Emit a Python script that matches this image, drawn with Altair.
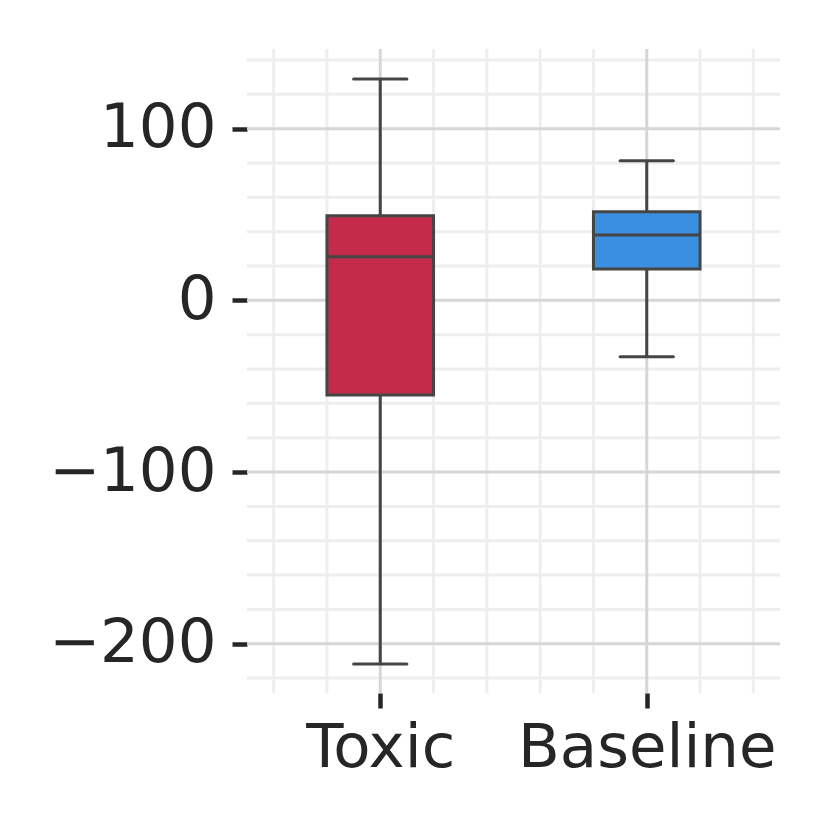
import json
import altair as alt
import pandas as pd

# ---- data ----
categories = ["Toxic", "Baseline"]
whisker_low = [-211.8, -32.8]
q1 = [-55.2, 18.2]
median = [25.4, 38.0]
q3 = [49.3, 51.6]
whisker_high = [128.9, 81.3]
box_colors = ["#c42b4b", "#3b8fe0"]

y_major = [-200, -100, 0, 100]
y_minor = [-220, -180, -160, -140, -120, -80, -60, -40, -20, 20, 40, 60, 80, 120, 140]
x_major = [0, 1]
x_minor = [-0.4, -0.2, 0.2, 0.4, 0.6, 0.8, 1.2, 1.4]

df = pd.DataFrame({
    "cat": categories,
    "pos": list(range(len(categories))),
    "lo": whisker_low,
    "q1": q1,
    "med": median,
    "q3": q3,
    "hi": whisker_high,
})

FONT = "DejaVu Sans"
TXT = "#262626"
EDGE = "#454545"
LW = 3

xs = alt.Scale(domain=[-0.5, 1.5], nice=False, zero=False)
ys = alt.Scale(domain=[-228.7, 146.4], nice=False, zero=False)

x_axis = alt.Axis(
    values=x_major,
    labelExpr=f"{json.dumps(categories)}[datum.value]",
    tickSize=15, tickWidth=4.5, tickColor=TXT,
    domain=False, grid=False,
    labelFont=FONT, labelFontSize=61, labelColor=TXT, labelPadding=10,
    labelLimit=0, labelOverlap=False,
    title=None,
)
y_axis = alt.Axis(
    values=y_major,
    labelExpr="replace(format(datum.value, 'd'), '-', '\u2212')",
    tickSize=15, tickWidth=4.5, tickColor=TXT,
    domain=False, grid=False,
    labelFont=FONT, labelFontSize=61, labelColor=TXT, labelPadding=16,
    labelLimit=0, labelOverlap=False,
    title=None,
)


def X(field):
    return alt.X(field, scale=xs, axis=x_axis)


def Y(field):
    return alt.Y(field, scale=ys, axis=y_axis)


# ---- gridlines ----
gy_minor = alt.Chart(pd.DataFrame({"v": y_minor})).mark_rule(
    color="#eeeeee", strokeWidth=3
).encode(y=Y("v:Q"))
gx_minor = alt.Chart(pd.DataFrame({"v": x_minor})).mark_rule(
    color="#eeeeee", strokeWidth=3
).encode(x=X("v:Q"))
gy_major = alt.Chart(pd.DataFrame({"v": y_major})).mark_rule(
    color="#d6d6d6", strokeWidth=3
).encode(y=Y("v:Q"))
gx_major = alt.Chart(pd.DataFrame({"v": x_major})).mark_rule(
    color="#d6d6d6", strokeWidth=3
).encode(x=X("v:Q"))

# ---- boxes ----
base = alt.Chart(df).transform_calculate(
    x0="datum.pos - 0.2",
    x1="datum.pos + 0.2",
    c0="datum.pos - 0.1",
    c1="datum.pos + 0.1",
)

whisk_lo = base.mark_rule(color=EDGE, strokeWidth=LW).encode(
    x=X("pos:Q"), y=Y("lo:Q"), y2="q1:Q"
)
whisk_hi = base.mark_rule(color=EDGE, strokeWidth=LW).encode(
    x=X("pos:Q"), y=Y("q3:Q"), y2="hi:Q"
)
boxes = base.mark_bar(stroke=EDGE, strokeWidth=LW, opacity=1).encode(
    x=X("x0:Q"),
    x2="x1:Q",
    y=Y("q1:Q"),
    y2="q3:Q",
    color=alt.Color("cat:N", scale=alt.Scale(domain=categories, range=box_colors), legend=None),
)
med = base.mark_rule(color=EDGE, strokeWidth=LW).encode(
    x=X("x0:Q"), x2="x1:Q", y=Y("med:Q")
)
cap_lo = base.mark_rule(color=EDGE, strokeWidth=LW, strokeCap="round").encode(
    x=X("c0:Q"), x2="c1:Q", y=Y("lo:Q")
)
cap_hi = base.mark_rule(color=EDGE, strokeWidth=LW, strokeCap="round").encode(
    x=X("c0:Q"), x2="c1:Q", y=Y("hi:Q")
)

chart = alt.layer(
    gy_minor, gx_minor, gy_major, gx_major,
    whisk_lo, whisk_hi, boxes, med, cap_lo, cap_hi,
).properties(
    width=533,
    height=644,
    autosize=alt.AutoSizeParams(type="none"),
    padding={"left": 239, "top": 41, "right": 20, "bottom": 120},
    background="white",
).configure_view(stroke=None)

chart.save("out.html", embed_options={"renderer": "svg", "actions": False})
